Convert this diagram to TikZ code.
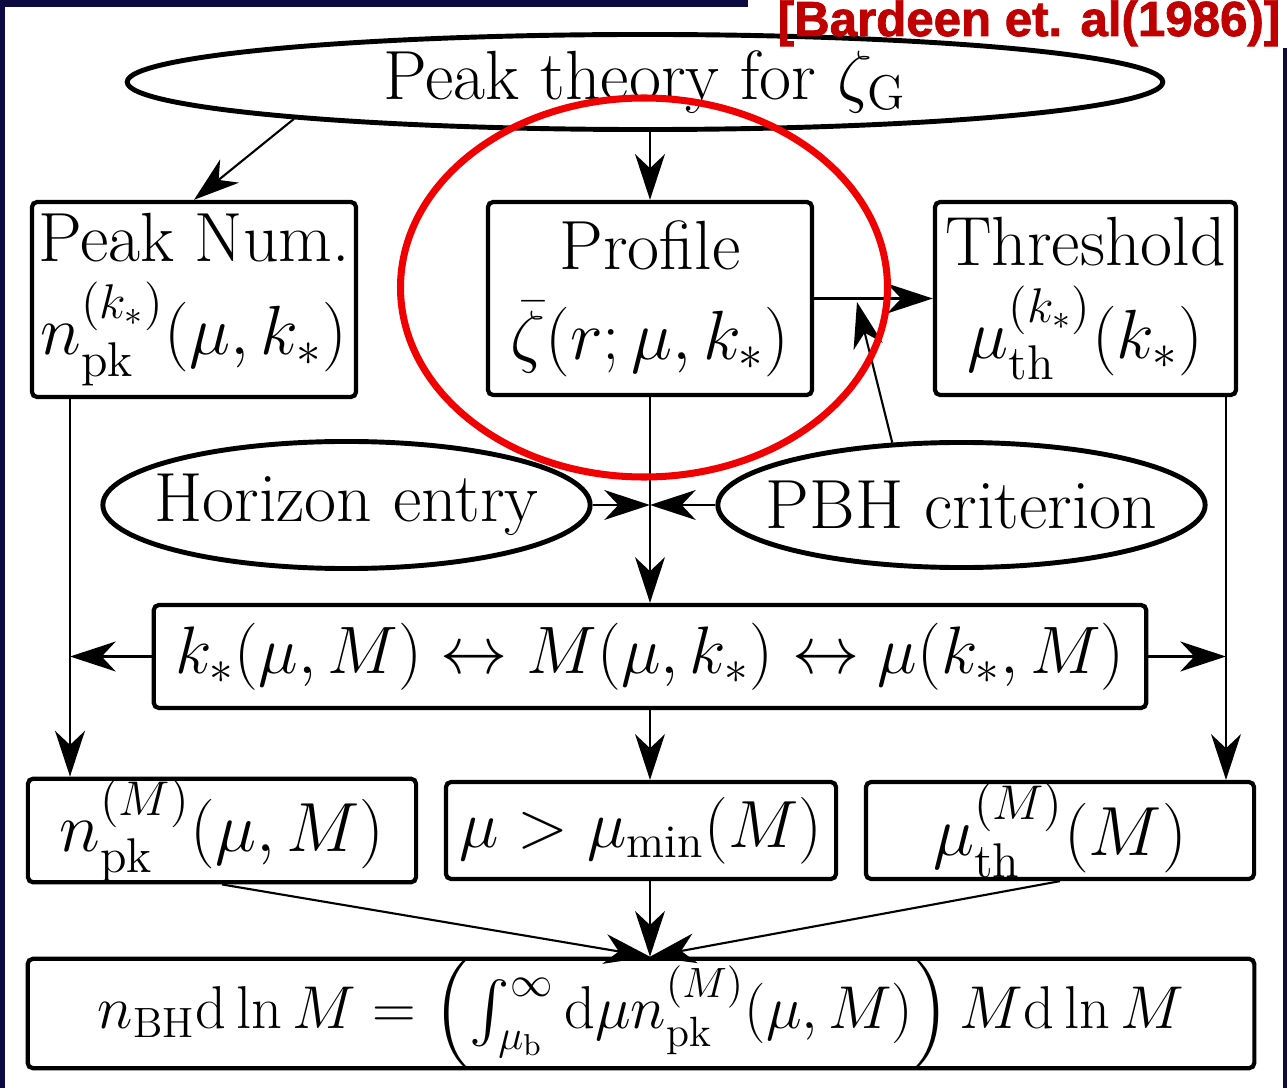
\RequirePackage{fix-cm}
\documentclass[tikz,border=0pt]{standalone}
\usepackage{amsmath}
\usepackage{fontspec}
\newfontfamily\citefont{Liberation Sans}[BoldFeatures={FakeBold=1.6}]
\usepackage{xcolor}
\definecolor{framenavy}{HTML}{0C0A40}
\definecolor{citered}{HTML}{C00000}
\definecolor{markred}{HTML}{F00000}
\usetikzlibrary{calc,arrows.meta,shapes.geometric}

\tikzset{
	box/.style={draw, line width=1.2pt, rounded corners=1.5pt, inner sep=0pt, align=center, font=\fontsize{19.8}{23.5}\selectfont},
	oval/.style={draw, ellipse, line width=1.4pt, inner sep=0pt, font=\fontsize{19.8}{23.5}\selectfont},
	flow/.style={-{Stealth[length=13pt,width=8.5pt,inset=4pt]}, line width=0.6pt},
}

\begin{document}
\begin{tikzpicture}[x=0.01cm, y=-0.01cm]
		\useasboundingbox (0,0) rectangle (1287,1088);

		% Slide frame
		\fill[framenavy] (0,0) rectangle (1287,1088);
		\fill[white] (5,7) rectangle (1283,1088);
		\fill[white] (748,0) rectangle (1287,48);

		% Top: peak theory
		\node[oval, minimum width=10.35cm, minimum height=0.95cm] (peak) at (645,82) {Peak theory for $\zeta_{\mathrm{G}}$};

		% Second row
		\node[box, minimum width=3.24cm, minimum height=1.95cm] (num) at (194,299.5) {Peak Num.\\[3pt] $n_{\mathrm{pk}}^{(k_*)}(\mu,k_*)$};
		\node[box, minimum width=3.24cm, minimum height=1.93cm] (prof) at (650,298.5) {Profile\\[2pt] $\bar{\zeta}(r;\mu,k_*)$};
		\node[box, minimum width=3.01cm, minimum height=1.93cm] (thr) at (1085.5,298.5) {Threshold\\[3pt] $\mu_{\mathrm{th}}^{(k_*)}(k_*)$};

		% Inputs
		\node[oval, minimum width=4.87cm, minimum height=1.27cm] (hor) at (346.5,505) {\makebox[0pt]{Horizon entry}};
		\node[oval, minimum width=4.87cm, minimum height=1.25cm] (pbh) at (961.5,505) {\makebox[0pt]{PBH criterion}};

		% Mass relation
		\node[box, font=\fontsize{19.1}{22.5}\selectfont, minimum width=9.92cm, minimum height=1.03cm] (mid) at (650,656.5) {$k_*(\mu,M)\leftrightarrow M(\mu,k_*)\leftrightarrow \mu(k_*,M)$};

		% Third row
		\node[box, minimum width=3.88cm, minimum height=0.97cm] (nm) at (222,830.5) {$n_{\mathrm{pk}}^{(M)}(\mu,M)$};
		\node[box, font=\fontsize{19}{22.5}\selectfont, minimum width=3.90cm, minimum height=0.97cm] (mumin) at (641,830.5) {$\mu>\mu_{\mathrm{min}}(M)$};
		\node[box, minimum width=3.88cm, minimum height=0.97cm] (muth) at (1060,830.5) {$\mu_{\mathrm{th}}^{(M)}(M)$};

		% Result
		\node[box, font=\fontsize{17.2}{20.5}\selectfont, minimum width=12.26cm, minimum height=0.97cm] (tot) at (641,1013.5) {$n_{\mathrm{BH}}\mathrm{d}\ln M=\left(\int_{\mu_{\mathrm{b}}}^{\infty}\mathrm{d}\mu n_{\mathrm{pk}}^{(M)}(\mu,M)\right)M\mathrm{d}\ln M$};

		% Helper points
		\coordinate (lcol) at (70,0);
		\coordinate (rcol) at (1226,0);
		\coordinate (meet) at (prof.south |- hor.east);
		\coordinate (tap) at (857,302);
		\coordinate (sink) at (mid.south |- tot.north);

		% Connectors
		\draw[flow] (peak.186) -- (num.north);
		\draw[flow] (peak.south -| prof.north) -- (prof.north);
		\draw[flow] (prof.east) -- (thr.west);
		\draw[flow] (pbh.138) -- (tap);
		\draw[flow] (prof.south) -- (prof.south |- mid.north);
		\draw[flow] (hor.east) -- (meet);
		\draw[flow] (pbh.west) -- (meet);
		\draw[flow] (num.south -| lcol) -- (nm.north -| lcol);
		\draw[flow] (mid.west) -- (mid.west -| lcol);
		\draw[flow] (thr.south -| rcol) -- (muth.north -| rcol);
		\draw[flow] (mid.east) -- (mid.east -| rcol);
		\draw[flow] (mid.south) -- (mid.south |- mumin.north);
		\draw[flow] (nm.south) -- (sink);
		\draw[flow] (mumin.south -| sink) -- (sink);
		\draw[flow] (muth.south) -- (sink);

		% Highlight and citation
		\draw[markred, line width=2pt] (644,287.5) ellipse [x radius=243.5, y radius=189.5];
		\node[citered, font={\citefont\bfseries\fontsize{14}{16}\selectfont}, anchor=base east, inner sep=0pt] (cite) at (1281,36) {[Bardeen et. al(1986)]};
	\end{tikzpicture}
\end{document}
